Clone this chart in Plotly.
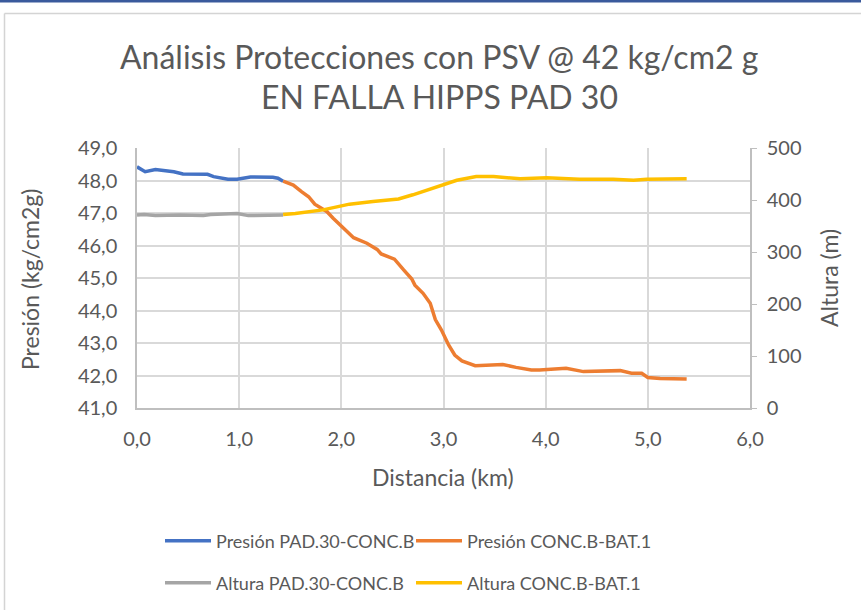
import plotly.graph_objects as go

# --- Tramo PAD.30 -> CONC.B -------------------------------------------------
dist_presion_pad = [0.00, 0.08, 0.18, 0.26, 0.36, 0.45, 0.65, 0.69, 0.75, 0.89,
                    0.98, 1.11, 1.33, 1.38, 1.43]
presion_pad = [48.42, 48.27, 48.34, 48.32, 48.27, 48.20, 48.21, 48.19, 48.12, 48.04,
               48.04, 48.11, 48.10, 48.07, 47.98]

dist_altura_pad = [0.00, 0.07, 0.18, 0.42, 0.65, 0.72, 0.98, 1.09, 1.43]
altura_pad = [371, 372, 370, 371, 370, 372, 374, 370, 371]

# --- Tramo CONC.B -> BAT.1 --------------------------------------------------
dist_presion_conc = [1.43, 1.53, 1.61, 1.68, 1.74, 1.86, 1.92, 2.02, 2.12, 2.25,
                     2.35, 2.39, 2.52, 2.61, 2.69, 2.72, 2.80, 2.87, 2.92, 2.98,
                     3.05, 3.11, 3.18, 3.31, 3.58, 3.71, 3.86, 3.94, 4.20, 4.37,
                     4.73, 4.84, 4.94, 5.00, 5.12, 5.38]
presion_conc = [47.98, 47.86, 47.66, 47.50, 47.27, 47.04, 46.84, 46.53, 46.24, 46.07,
                45.88, 45.74, 45.58, 45.25, 44.97, 44.78, 44.53, 44.22, 43.72, 43.40,
                42.94, 42.63, 42.45, 42.30, 42.34, 42.25, 42.17, 42.17, 42.22, 42.12,
                42.15, 42.07, 42.07, 41.94, 41.91, 41.89]

dist_altura_conc = [1.43, 1.55, 1.82, 2.08, 2.31, 2.56, 2.70, 2.83, 3.00, 3.13,
                    3.32, 3.49, 3.75, 4.01, 4.33, 4.66, 4.86, 4.99, 5.38]
altura_conc = [372, 374, 381, 392, 397, 402, 410, 418, 430, 438,
               445, 445, 441, 443, 440, 440, 438, 440, 441]

x_ticks = [0, 1, 2, 3, 4, 5, 6]
y_ticks = [41, 42, 43, 44, 45, 46, 47, 48, 49]
y2_ticks = [0, 100, 200, 300, 400, 500]

FONT = "Lato"
TXT = "#595959"
GRID = "#d9d9d9"
LW = 3.5
FIG_W, FIG_H = 861, 610

fig = go.Figure()

fig.add_trace(go.Scatter(x=dist_presion_pad, y=presion_pad, mode="lines",
                         name="Presión PAD.30-CONC.B",
                         line=dict(color="#4472C4", width=LW), legend="legend"))
fig.add_trace(go.Scatter(x=dist_presion_conc, y=presion_conc, mode="lines",
                         name="Presión CONC.B-BAT.1",
                         line=dict(color="#ED7D31", width=LW), legend="legend2"))
fig.add_trace(go.Scatter(x=dist_altura_pad, y=altura_pad, mode="lines",
                         name="Altura PAD.30-CONC.B", yaxis="y2",
                         line=dict(color="#A5A5A5", width=LW), legend="legend3"))
fig.add_trace(go.Scatter(x=dist_altura_conc, y=altura_conc, mode="lines",
                         name="Altura CONC.B-BAT.1", yaxis="y2",
                         line=dict(color="#FFC000", width=LW), legend="legend4"))

# plot-area geometry (pixels) used to place the frame decorations
L, R, T, B = 137, 750, 148, 408
W, H = R - L, B - T


def px(xp):
    return (xp - L) / W


def py(yp):
    return (B - yp) / H


def cx(xp):
    return xp / FIG_W


def cy(yp):
    return 1 - yp / FIG_H


shapes = [
    # dark band along the top edge
    dict(type="rect", xref="paper", yref="paper", x0=px(0), x1=px(861),
         y0=py(2.5), y1=py(0), fillcolor="#3A5A9C", line=dict(width=0), layer="below"),
    # light chart frame
    dict(type="line", xref="paper", yref="paper", x0=px(4.5), x1=px(861),
         y0=py(13.5), y1=py(13.5), line=dict(color="#d4d4d4", width=1.5)),
    dict(type="line", xref="paper", yref="paper", x0=px(4.5), x1=px(4.5),
         y0=py(13.5), y1=py(610), line=dict(color="#d4d4d4", width=1.5)),
]

annotations = [
    dict(text="Análisis Protecciones con PSV @ 42 kg/cm2 g", xref="paper", yref="paper",
         x=px(439), y=py(57), xanchor="center", yanchor="middle", showarrow=False,
         font=dict(family=FONT, size=32, color=TXT)),
    dict(text="EN FALLA HIPPS PAD 30", xref="paper", yref="paper",
         x=px(439), y=py(96), xanchor="center", yanchor="middle", showarrow=False,
         font=dict(family=FONT, size=32, color=TXT)),
    dict(text="Distancia (km)", xref="paper", yref="paper",
         x=px(443), y=py(477), xanchor="center", yanchor="middle", showarrow=False,
         font=dict(family=FONT, size=23, color=TXT)),
    dict(text="Presión (kg/cm2g)", xref="paper", yref="paper", textangle=-90,
         x=px(30), y=py(280), xanchor="center", yanchor="middle", showarrow=False,
         font=dict(family=FONT, size=23, color=TXT)),
    dict(text="Altura (m)", xref="paper", yref="paper", textangle=-90,
         x=px(829), y=py(278), xanchor="center", yanchor="middle", showarrow=False,
         font=dict(family=FONT, size=23, color=TXT)),
]

legend_common = dict(orientation="h", xanchor="left", yanchor="middle",
                     xref="container", yref="container",
                     bgcolor="rgba(0,0,0,0)", font=dict(family=FONT, size=18, color=TXT),
                     itemwidth=46)

fig.update_layout(
    width=FIG_W, height=FIG_H,
    margin=dict(l=L, r=FIG_W - R, t=T, b=FIG_H - B),
    paper_bgcolor="white", plot_bgcolor="white",
    separators=",.",
    font=dict(family=FONT, color=TXT),
    showlegend=True,
    xaxis=dict(range=[0, 6], tickvals=x_ticks, tickformat=".1f",
               showgrid=True, gridcolor=GRID, gridwidth=1.5,
               showline=True, linecolor="#bfbfbf", linewidth=1.5,
               zeroline=False, ticks="", ticklabelstandoff=12,
               tickfont=dict(family=FONT, size=20, color=TXT)),
    yaxis=dict(range=[41, 49], tickvals=y_ticks, tickformat=".1f",
               showgrid=True, gridcolor=GRID, gridwidth=1.5,
               showline=True, linecolor="#bfbfbf", linewidth=1.5,
               zeroline=False, ticks="", ticklabelstandoff=14,
               tickfont=dict(family=FONT, size=20, color=TXT)),
    yaxis2=dict(range=[0, 500], tickvals=y2_ticks, overlaying="y", side="right",
                showgrid=False, showline=True, linecolor="#bfbfbf", linewidth=1.5,
                zeroline=False, ticks="outside", ticklen=5, tickcolor="#bfbfbf",
                ticklabelstandoff=6,
                tickfont=dict(family=FONT, size=20, color=TXT)),
    legend=dict(x=cx(160), y=cy(541), **legend_common),
    legend2=dict(x=cx(411), y=cy(541), **legend_common),
    legend3=dict(x=cx(160), y=cy(583), **legend_common),
    legend4=dict(x=cx(411), y=cy(583), **legend_common),
    shapes=shapes,
    annotations=annotations,
)

fig.write_html("out.html")
